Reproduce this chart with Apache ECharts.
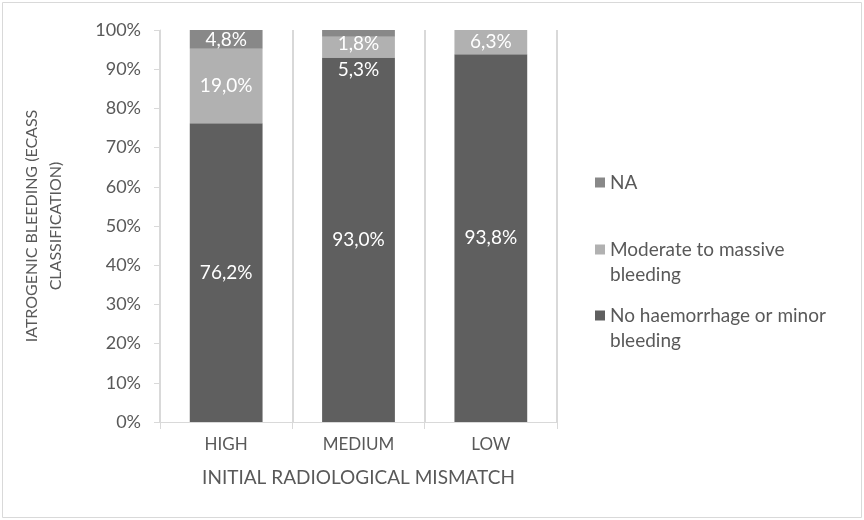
<!DOCTYPE html>
<html><head><meta charset="utf-8">
<script src="https://cdn.jsdelivr.net/npm/echarts@6/dist/echarts.min.js"></script>
<style>html,body{margin:0;padding:0;background:#fff}#c{width:864px;height:520px}</style>
</head><body><div id="c"></div>
<script>
const categories = ['HIGH', 'MEDIUM', 'LOW'];
const noHaemorrhage = [76.2, 93.0, 93.8];
const moderate = [19.0, 5.3, 6.3];
const na = [4.8, 1.8, null];
const yTicks = [0, 10, 20, 30, 40, 50, 60, 70, 80, 90, 100];
const seriesNames = ['No haemorrhage or minor bleeding', 'Moderate to massive bleeding', 'NA'];

const FONT = 'Lato';
const TXT = '#595959';
const fmt = p => p.value == null ? '' : p.value.toFixed(1).replace('.', ',') + '%';
const labelOffsets = { 'NA': { 1: [0, 11] }, 'Moderate to massive bleeding': { 1: [0, 23] } };
function build(name, arr) {
  return arr.map((v, i) => {
    const off = labelOffsets[name] && labelOffsets[name][i];
    return off ? { value: v, label: { offset: off } } : v;
  });
}
const colors = { 'No haemorrhage or minor bleeding': '#5f5f5f', 'Moderate to massive bleeding': '#b1b1b1', 'NA': '#888888' };
const values = { 'No haemorrhage or minor bleeding': noHaemorrhage, 'Moderate to massive bleeding': moderate, 'NA': na };
const legendText = {
  'NA': 'NA',
  'Moderate to massive bleeding': '\nModerate to massive\nbleeding',
  'No haemorrhage or minor bleeding': '\nNo haemorrhage or minor\nbleeding'
};
const legendTops = { 'NA': 165, 'Moderate to massive bleeding': 207, 'No haemorrhage or minor bleeding': 273 };

const chart = echarts.init(document.getElementById('c'));
chart.setOption({
  animation: false,
  textStyle: { fontFamily: FONT },
  graphic: [{ type: 'rect', shape: { x: 2.5, y: 2.5, width: 859, height: 515 }, style: { fill: 'none', stroke: '#d9d9d9', lineWidth: 1 } }],
  grid: { left: 160, right: 307, top: 30, bottom: 98 },
  legend: ['NA', 'Moderate to massive bleeding', 'No haemorrhage or minor bleeding'].map(n => ({
    data: [n], orient: 'vertical', left: 590, top: legendTops[n],
    itemWidth: 10, itemHeight: 10, itemGap: 0, icon: 'rect', selectedMode: false,
    formatter: nm => legendText[nm],
    textStyle: { fontFamily: FONT, fontSize: 19, color: TXT, lineHeight: 25 }
  })),
  xAxis: {
    type: 'category', data: categories,
    name: 'INITIAL RADIOLOGICAL MISMATCH', nameLocation: 'middle', nameGap: 46,
    nameTextStyle: { fontFamily: FONT, fontSize: 19, color: TXT },
    axisLine: { lineStyle: { color: '#d9d9d9', width: 1 } },
    axisTick: { show: true, length: 7, lineStyle: { color: '#d9d9d9' } },
    axisLabel: { fontFamily: FONT, fontSize: 17, color: TXT, margin: 14 },
    splitLine: { show: true, lineStyle: { color: '#d9d9d9', width: 2 } }
  },
  yAxis: {
    type: 'value', min: yTicks[0], max: yTicks[yTicks.length - 1], interval: yTicks[1] - yTicks[0],
    name: 'IATROGENIC BLEEDING (ECASS\nCLASSIFICATION)', nameLocation: 'middle', nameGap: 92, nameRotate: 90,
    nameTextStyle: { fontFamily: FONT, fontSize: 16, color: TXT, lineHeight: 24 },
    axisLine: { show: true, lineStyle: { color: '#d9d9d9' } },
    axisTick: { show: true, length: 6, lineStyle: { color: '#d9d9d9' } },
    axisLabel: { fontFamily: FONT, fontSize: 18, color: TXT, margin: 19, formatter: '{value}%' },
    splitLine: { show: false }
  },
  series: seriesNames.map(n => ({
    name: n, type: 'bar', stack: 'total', barCategoryGap: '45%',
    itemStyle: { color: colors[n] },
    data: build(n, values[n]),
    label: { show: true, position: 'inside', formatter: fmt, fontFamily: FONT, fontSize: 19, color: '#ffffff' }
  }))
});
</script></body></html>
